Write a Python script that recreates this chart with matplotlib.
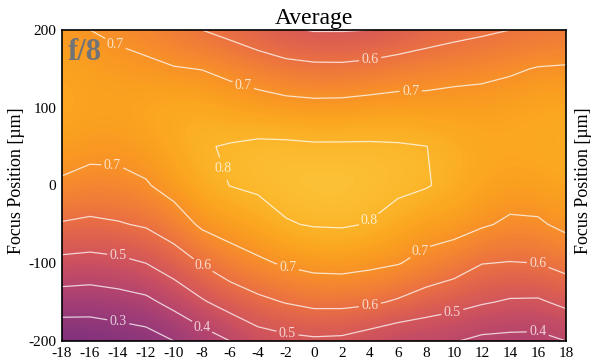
import numpy as np
from matplotlib import pyplot as plt

plt.rc('font', family=['Liberation Serif', 'DejaVu Serif'], size=10)
plt.rc('axes', unicode_minus=False)

# grid: lens position (x) and focus position (y, µm)
x = np.arange(-18, 19, 2)
y = np.array([-200, -150, -100, -50, 0, 50, 100, 150, 200])

# values, one list per x column (from y=-200 up to y=200)
col_m18 = [0.220, 0.351, 0.474, 0.593, 0.687, 0.740, 0.760, 0.750, 0.720]
col_m16 = [0.225, 0.346, 0.467, 0.582, 0.670, 0.725, 0.750, 0.740, 0.700]
col_m14 = [0.240, 0.360, 0.477, 0.593, 0.673, 0.725, 0.750, 0.730, 0.680]
col_m12 = [0.256, 0.378, 0.500, 0.610, 0.692, 0.740, 0.760, 0.720, 0.660]
col_m10 = [0.300, 0.429, 0.550, 0.651, 0.735, 0.765, 0.770, 0.705, 0.630]
col_m8 = [0.350, 0.489, 0.605, 0.715, 0.775, 0.795, 0.770, 0.698, 0.600]
col_m6 = [0.400, 0.539, 0.655, 0.740, 0.801, 0.805, 0.751, 0.677, 0.573]
col_m4 = [0.455, 0.578, 0.685, 0.762, 0.812, 0.815, 0.740, 0.654, 0.540]
col_m2 = [0.475, 0.604, 0.710, 0.795, 0.825, 0.815, 0.730, 0.632, 0.510]
col_0 = [0.485, 0.623, 0.726, 0.805, 0.830, 0.810, 0.725, 0.622, 0.495]
col_2 = [0.480, 0.624, 0.729, 0.807, 0.830, 0.810, 0.727, 0.621, 0.495]
col_4 = [0.450, 0.614, 0.718, 0.797, 0.825, 0.810, 0.734, 0.631, 0.500]
col_6 = [0.420, 0.589, 0.704, 0.770, 0.815, 0.807, 0.738, 0.647, 0.520]
col_8 = [0.415, 0.555, 0.672, 0.741, 0.805, 0.801, 0.734, 0.656, 0.550]
col_10 = [0.405, 0.532, 0.645, 0.735, 0.780, 0.780, 0.740, 0.666, 0.570]
col_12 = [0.379, 0.508, 0.602, 0.710, 0.755, 0.765, 0.740, 0.675, 0.585]
col_14 = [0.374, 0.490, 0.596, 0.686, 0.740, 0.760, 0.750, 0.688, 0.600]
col_16 = [0.372, 0.488, 0.600, 0.689, 0.745, 0.765, 0.755, 0.705, 0.610]
col_18 = [0.400, 0.520, 0.631, 0.720, 0.755, 0.770, 0.760, 0.710, 0.615]

columns = [col_m18, col_m16, col_m14, col_m12, col_m10, col_m8, col_m6,
           col_m4, col_m2, col_0, col_2, col_4, col_6, col_8, col_10,
           col_12, col_14, col_16, col_18]
z = np.array(columns).T

levels = [0.3, 0.4, 0.5, 0.6, 0.7, 0.8]
label_pos = [(-14.3, 178), (-5.1, 126), (6.9, 127), (-14.4, 20),
             (-1.9, -109), (7.7, -89),
             (4, 163), (-8, -105), (4, -156), (16, -100),
             (-6.7, 20), (4, -47),
             (-14, -92), (-1.9, -190), (9.9, -164),
             (-8, -182), (16, -188),
             (-14, -177)]

fig = plt.figure(figsize=(6, 3.61), dpi=100)
ax = fig.add_axes([0.1033, 0.0554, 0.84, 0.8616])

dx, dy = 1, 25
ax.imshow(z, origin='lower', aspect='auto', cmap='inferno',
          vmin=-0.12, vmax=1.0, alpha=0.9, interpolation='bicubic',
          extent=[x[0] - dx, x[-1] + dx, y[0] - dy, y[-1] + dy])
cs = ax.contour(x, y, z, levels=levels, colors='white', linewidths=0.9,
                alpha=0.75)
labels = ax.clabel(cs, fmt='%.1f', fontsize=10, inline=True,
                   inline_spacing=2, manual=label_pos, colors='white')
for t in labels:
    t.set_rotation(0)

ax.set_xlim(-18, 18)
ax.set_ylim(-200, 200)
ax.set_xticks(np.arange(-18, 19, 2))
ax.set_yticks([-200, -100, 0, 100, 200])
ax.tick_params(length=0, pad=4, labelsize=11)
for s in ax.spines.values():
    s.set_linewidth(1.2)

ax.set_title('Average', fontsize=17, pad=4)
fig.text(0.027, 0.5, 'Focus Position [µm]', rotation=90, fontsize=13,
         ha='center', va='center')
fig.text(0.972, 0.5, 'Focus Position [µm]', rotation=90, fontsize=13,
         ha='center', va='center')
ax.text(0.012, 0.975, 'f/8', transform=ax.transAxes, fontsize=22,
        fontweight='bold', color='#707478', ha='left', va='top')

fig.savefig('out.png', dpi=100)
